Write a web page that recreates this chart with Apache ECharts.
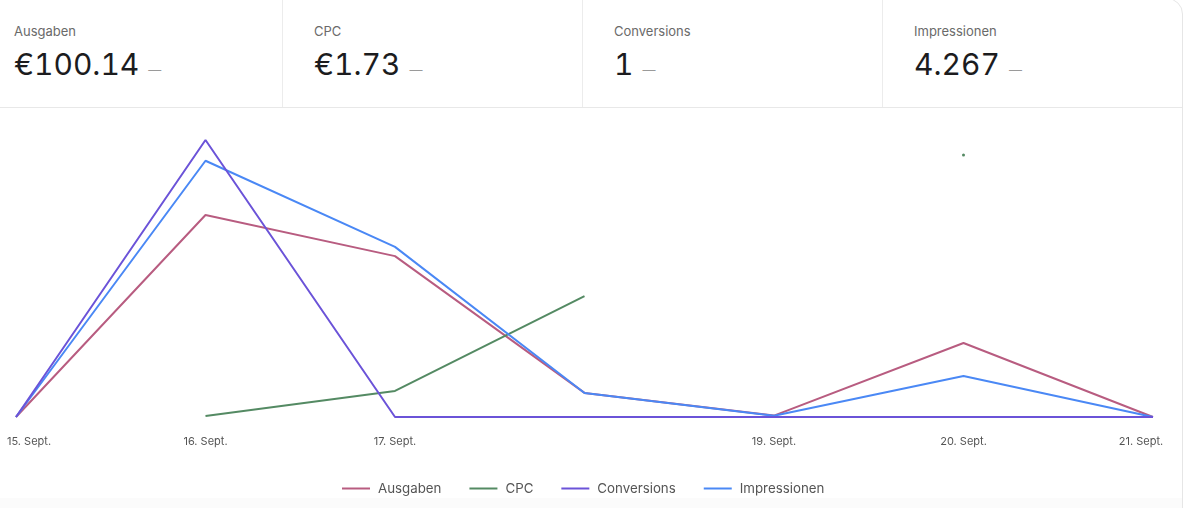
<!DOCTYPE html>
<html>
<head>
<meta charset="utf-8">
<script src="https://cdn.jsdelivr.net/npm/echarts@6/dist/echarts.min.js"></script>
<style>
  html, body { margin: 0; padding: 0; width: 1188px; height: 508px; overflow: hidden; background: #fff; font-family: Inter, "Noto Sans", sans-serif; }
  #card { position: absolute; left: -17px; top: -2px; width: 1200px; height: 530px; box-sizing: border-box; border: 1px solid #e6e6e6; border-radius: 16px; background: #fff; overflow: hidden; }
  #foot { position: absolute; left: 0; top: 498px; width: 1182px; height: 10px; background: #fbfbfb; }
  .cell { position: absolute; top: 0; width: 300px; height: 107px; box-sizing: border-box; }
  .cell.div { border-right: 1px solid #ececec; }
  .lbl { position: absolute; left: 31px; top: 25px; font-size: 13px; line-height: 13px; color: #6a6a6a; white-space: nowrap; }
  .val { position: absolute; left: 31px; top: 49px; font-size: 30px; line-height: 30px; color: #1c1c1e; white-space: nowrap; font-feature-settings: "tnum" 1; }
  .dash { font-size: 13px; color: #9a9a9a; margin-left: 9px; }
  #hline { position: absolute; left: 0; top: 107px; width: 1182px; height: 1px; background: #e8e8e8; }
  #chart { position: absolute; left: 0; top: 108px; width: 1188px; height: 400px; }
</style>
</head>
<body>
<div id="card"></div>
<div id="foot"></div>
<div id="header"></div>
<div id="hline"></div>
<div id="chart"></div>
<script>
// KPI header
const kpiLabels = ['Ausgaben', 'CPC', 'Conversions', 'Impressionen'];
const kpiValues = ['€100.14', '€1.73', '1', '4.267'];

// Chart data
const categories = ['15. Sept.', '16. Sept.', '17. Sept.', '18. Sept.', '19. Sept.', '20. Sept.', '21. Sept.'];
const tickLabels = ['15. Sept.', '16. Sept.', '17. Sept.', '', '19. Sept.', '20. Sept.', '21. Sept.'];
const seriesNames = ['Ausgaben', 'CPC', 'Conversions', 'Impressionen'];
const ausgaben = [0, 43.75, 34.85, 5.22, 0.3, 16.02, 0];
const cpc = [null, 0.02, 0.47, 2.18, null, 4.73, null];
const conversions = [0, 1, 0, 0, 0, 0, 0];
const impressionen = [0, 2220, 1474, 208, 10, 355, 0];
const axisMaxAusgaben = 60;
const axisMaxCpc = 5;
const axisMaxConversions = 1;
const axisMaxImpressionen = 2400;

// build header
const header = document.getElementById('header');
kpiLabels.forEach((l, i) => {
  const c = document.createElement('div');
  c.className = 'cell' + (i < 3 ? ' div' : '');
  c.style.left = (-17 + 300 * i) + 'px';
  const a = document.createElement('div'); a.className = 'lbl'; a.textContent = l;
  const b = document.createElement('div'); b.className = 'val';
  b.appendChild(document.createTextNode(kpiValues[i]));
  const d = document.createElement('span'); d.className = 'dash'; d.textContent = '—';
  b.appendChild(d);
  c.appendChild(a); c.appendChild(b);
  header.appendChild(c);
});

const colors = ['#b85c80', '#548a63', '#6b53d8', '#4a88f5'];
const datas = [ausgaben, cpc, conversions, impressionen];
const maxes = [axisMaxAusgaben, axisMaxCpc, axisMaxConversions, axisMaxImpressionen];

function isolatedSize(arr) {
  return function (val, params) {
    const i = params.dataIndex;
    const prev = i > 0 ? arr[i - 1] : null;
    const next = i < arr.length - 1 ? arr[i + 1] : null;
    return (prev == null && next == null) ? 3 : 0;
  };
}

const chart = echarts.init(document.getElementById('chart'), null, { renderer: 'canvas' });
chart.setOption({
  animation: false,
  color: colors,
  textStyle: { fontFamily: 'Inter, "Noto Sans", sans-serif' },
  grid: { left: 16, right: 35, top: 32, bottom: 91, containLabel: false },
  legend: {
    data: seriesNames,
    left: 342,
    top: 374,
    padding: 0,
    icon: 'rect',
    itemWidth: 28,
    itemHeight: 2,
    itemGap: 28,
    textStyle: { color: '#555', fontSize: 13.3, fontFamily: 'Inter', padding: [0, 0, 0, 3] }
  },
  xAxis: {
    type: 'category',
    boundaryGap: false,
    data: categories.map((c, i) => {
      if (i === 0) return { value: c, textStyle: { padding: [0, 0, 0, 26] } };
      if (i === categories.length - 1) return { value: c, textStyle: { padding: [0, 24, 0, 0] } };
      return c;
    }),
    axisLine: { show: false },
    axisTick: { show: false },
    splitLine: { show: false },
    axisLabel: {
      interval: 0,
      color: '#555',
      fontSize: 11,
      fontFamily: 'Inter',
      margin: 19,
      formatter: (v, i) => tickLabels[i]
    }
  },
  yAxis: maxes.map(m => ({ type: 'value', min: 0, max: m, show: false, splitLine: { show: false } })),
  series: seriesNames.map((n, k) => ({
    name: n,
    type: 'line',
    yAxisIndex: k,
    data: datas[k],
    symbol: 'circle',
    symbolSize: isolatedSize(datas[k]),
    showSymbol: true,
    showAllSymbol: true,
    lineStyle: { width: 2, color: colors[k] },
    itemStyle: { color: colors[k] },
    emphasis: { disabled: true },
    z: 2 + (k === 2 ? 2 : k === 3 ? 1 : 0)
  }))
});
</script>
</body>
</html>
